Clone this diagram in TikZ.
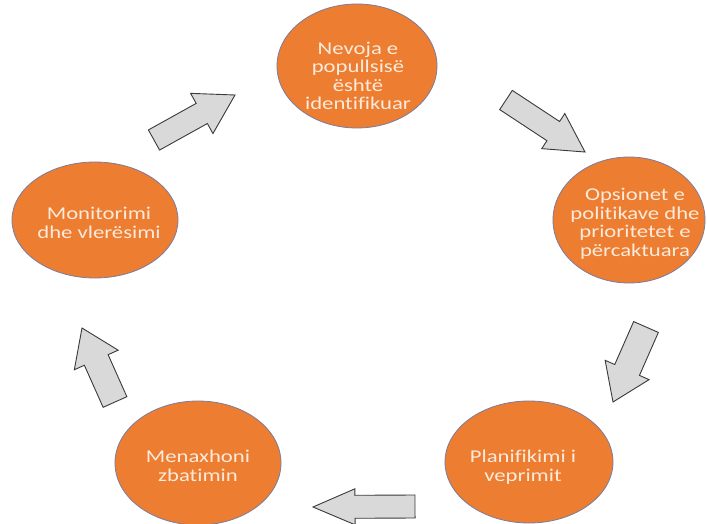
\documentclass[tikz,border=0pt]{standalone}
\usepackage{fontspec}
\setmainfont{Carlito}[FakeStretch=1.26,Ligatures=NoCommon]
\usetikzlibrary{shapes.geometric,calc}
\definecolor{orng}{HTML}{ED7D31}
\definecolor{ringc}{HTML}{7C7C9C}
\definecolor{txtc}{HTML}{FCEBDC}
\definecolor{arrfill}{HTML}{D9D9D9}
\definecolor{arrline}{HTML}{3A3A3A}
\tikzset{
 blob/.style={ellipse, fill=orng, draw=ringc, line width=0.8pt, inner sep=0pt},
 lbl/.style={text=txtc, align=center, font=\fontsize{18}{18.5}\selectfont, inner sep=0pt},
 barrow/.style={fill=arrfill, draw=arrline, line width=0.9pt, line join=miter}
}
\newcommand\blockarr[5]{%
 \path ($(#2)!#5pt!(#1)$) coordinate (hb);
 \draw[barrow] ($(#1)!#3pt!90:(#2)$) -- ($(hb)!#3pt!90:(#2)$) -- ($(hb)!#4pt!90:(#2)$) -- (#2) -- ($(hb)!#4pt!-90:(#2)$) -- ($(hb)!#3pt!-90:(#2)$) -- ($(#1)!#3pt!-90:(#2)$) -- cycle;
}
\begin{document}
\begin{tikzpicture}[x=1pt,y=-1pt]
\fill[white] (0,0) rectangle (707,524);
\useasboundingbox (0,0) rectangle (707,524);
\begin{scope}
\clip (0,0) rectangle (707,524);
\node[blob, minimum width=160pt, minimum height=124pt] (n1) at (357,66) {};
\node[blob, minimum width=152pt, minimum height=126pt] (n2) at (629,220) {};
\node[blob, minimum width=166pt, minimum height=116pt] (n3) at (95,220) {};
\node[blob, minimum width=166pt, minimum height=124pt] (n4) at (198,463) {};
\node[blob, minimum width=168pt, minimum height=122pt] (n5) at (529,462) {};
\end{scope}
\node[lbl] (t1) at (358,76) {Nevoja e\\popullsisë\\është\\identifikuar};
\node[lbl] (t2) at (635,224) {Opsionet e\\politikave dhe\\prioritetet e\\përcaktuara};
\node[lbl] (t3) at (99,223) {Monitorimi\\dhe vlerësimi};
\node[lbl] (t4) at (198,466) {Menaxhoni\\zbatimin};
\node[lbl] (t5) at (523,467) {Planifikimi i\\veprimit};
\coordinate (a1s) at (154,140); \coordinate (a1e) at (235,95);
\coordinate (a2s) at (506,100); \coordinate (a2e) at (585,152);
\coordinate (a3s) at (646,327); \coordinate (a3e) at (613,402);
\coordinate (a4s) at (415,506.5); \coordinate (a4e) at (313,507);
\coordinate (a5s) at (115,402); \coordinate (a5e) at (82,328);
\blockarr{a1s}{a1e}{11.5}{23}{38}
\blockarr{a2s}{a2e}{11.5}{21}{38}
\blockarr{a3s}{a3e}{13.5}{24}{35}
\blockarr{a4s}{a4e}{11.5}{18}{42}
\blockarr{a5s}{a5e}{13}{24}{35}
\end{tikzpicture}
\end{document}
